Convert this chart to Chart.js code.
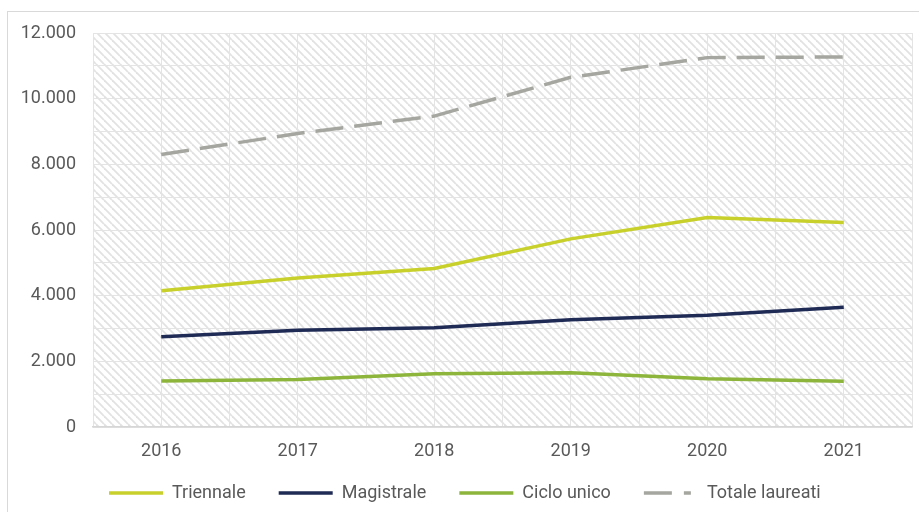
<!DOCTYPE html>
<html><head>
<meta charset="utf-8">
<script src="https://cdn.jsdelivr.net/npm/chart.js"></script>
<title>Laureati 2016-2021</title>
<style>
html, body { margin: 0; padding: 0; background: #fff; }
#wrap { width: 919px; height: 512px; position: relative; }
</style>
</head>
<body>
<div id="wrap"><canvas id="chart" width="919" height="512"></canvas></div>
<script>
const years = [2016, 2017, 2018, 2019, 2020, 2021];
const triennale = [4150, 4540, 4830, 5730, 6380, 6230];
const magistrale = [2750, 2950, 3020, 3270, 3400, 3650];
const cicloUnico = [1400, 1450, 1620, 1650, 1470, 1390];
const totale = [8300, 8940, 9470, 10650, 11250, 11270];

const gridColor = '#e4e4e4';
const textColor = '#595959';
const font = { family: 'Roboto, sans-serif', size: 18 };

// 12000 -> "12.000"
function fmt(v) {
  return String(v).replace(/\B(?=(\d{3})+(?!\d))/g, '.');
}

function points(values) {
  return years.map((y, i) => ({x: y, y: values[i]}));
}

// diagonal hatch used as plot background
function hatch(ctx) {
  const tile = document.createElement('canvas');
  tile.width = 8; tile.height = 8;
  const t = tile.getContext('2d');
  t.fillStyle = '#ffffff';
  t.fillRect(0, 0, 8, 8);
  t.strokeStyle = '#e2e2e2';
  t.lineWidth = 1.8;
  [-8, 0, 8].forEach(k => {
    t.beginPath();
    t.moveTo(0, k);
    t.lineTo(8, 8 + k);
    t.stroke();
  });
  return ctx.createPattern(tile, 'repeat');
}

const backdrop = {
  id: 'backdrop',
  afterLayout(chart) {
    // legend row sits under the axis labels, starting right of the y labels
    chart.legend.left = 76;
    chart.legend.top = 451;
  },
  beforeDraw(chart) {
    const {ctx, chartArea: a} = chart;
    ctx.save();
    ctx.strokeStyle = '#d9d9d9';
    ctx.lineWidth = 1;
    ctx.strokeRect(7.5, 11.5, 940, 540);
    ctx.fillStyle = hatch(ctx);
    ctx.fillRect(a.left, a.top, a.right - a.left, a.bottom - a.top);
    ctx.restore();
  }
};

function series(label, values, color, dash, legendDash) {
  return {
    label: label,
    data: points(values),
    borderColor: color,
    backgroundColor: color,
    borderWidth: 3.5,
    borderDash: dash || [],
    legendDash: legendDash || dash || [],
    borderCapStyle: 'butt',
    pointRadius: 0,
    pointHoverRadius: 0,
    pointStyle: 'line',
    tension: 0
  };
}

new Chart(document.getElementById('chart').getContext('2d'), {
  type: 'line',
  data: {
    datasets: [
      series('Triennale', triennale, '#c8d12c'),
      series('Magistrale', magistrale, '#1f2a55'),
      series('Ciclo unico', cicloUnico, '#8db53c'),
      series('Totale laureati', totale, '#a6a6a0', [28, 11], [28, 12, 7, 40])
    ]
  },
  options: {
    responsive: false,
    animation: false,
    layout: { padding: { left: 0, top: 33, right: 7, bottom: 0 } },
    font: font,
    plugins: {
      tooltip: { enabled: false },
      legend: {
        position: 'bottom',
        align: 'start',
        maxHeight: 40,
        labels: {
          usePointStyle: true,
          pointStyleWidth: 54,
          padding: 33,
          color: textColor,
          font: font,
          generateLabels(chart) {
            const items = Chart.defaults.plugins.legend.labels.generateLabels(chart);
            items.forEach(it => {
              const ds = chart.data.datasets[it.datasetIndex];
              it.lineDash = ds.legendDash;
              it.lineWidth = ds.borderWidth;
              it.strokeStyle = ds.borderColor;
            });
            return items;
          }
        }
      }
    },
    scales: {
      x: {
        type: 'linear',
        min: 2015.5,
        max: 2021.5,
        grid: { color: gridColor, drawTicks: false },
        border: { color: '#d6d6d6', width: 1.5 },
        ticks: {
          stepSize: 0.5,
          autoSkip: false,
          maxRotation: 0,
          padding: 14,
          color: textColor,
          font: font,
          callback: v => Number.isInteger(v) ? String(v) : ''
        },
        afterFit: s => {
          s.height = 45;
          s.paddingLeft = 0;
          s.paddingRight = 0;
        }
      },
      y: {
        min: 0,
        max: 12000,
        grid: { color: gridColor, drawTicks: false },
        border: { display: false },
        ticks: {
          stepSize: 1000,
          padding: 17,
          color: textColor,
          font: font,
          callback: v => v % 2000 === 0 ? fmt(v) : ''
        },
        afterFit: s => { s.width = 93; }
      }
    }
  },
  plugins: [backdrop]
});
</script>
</body></html>
